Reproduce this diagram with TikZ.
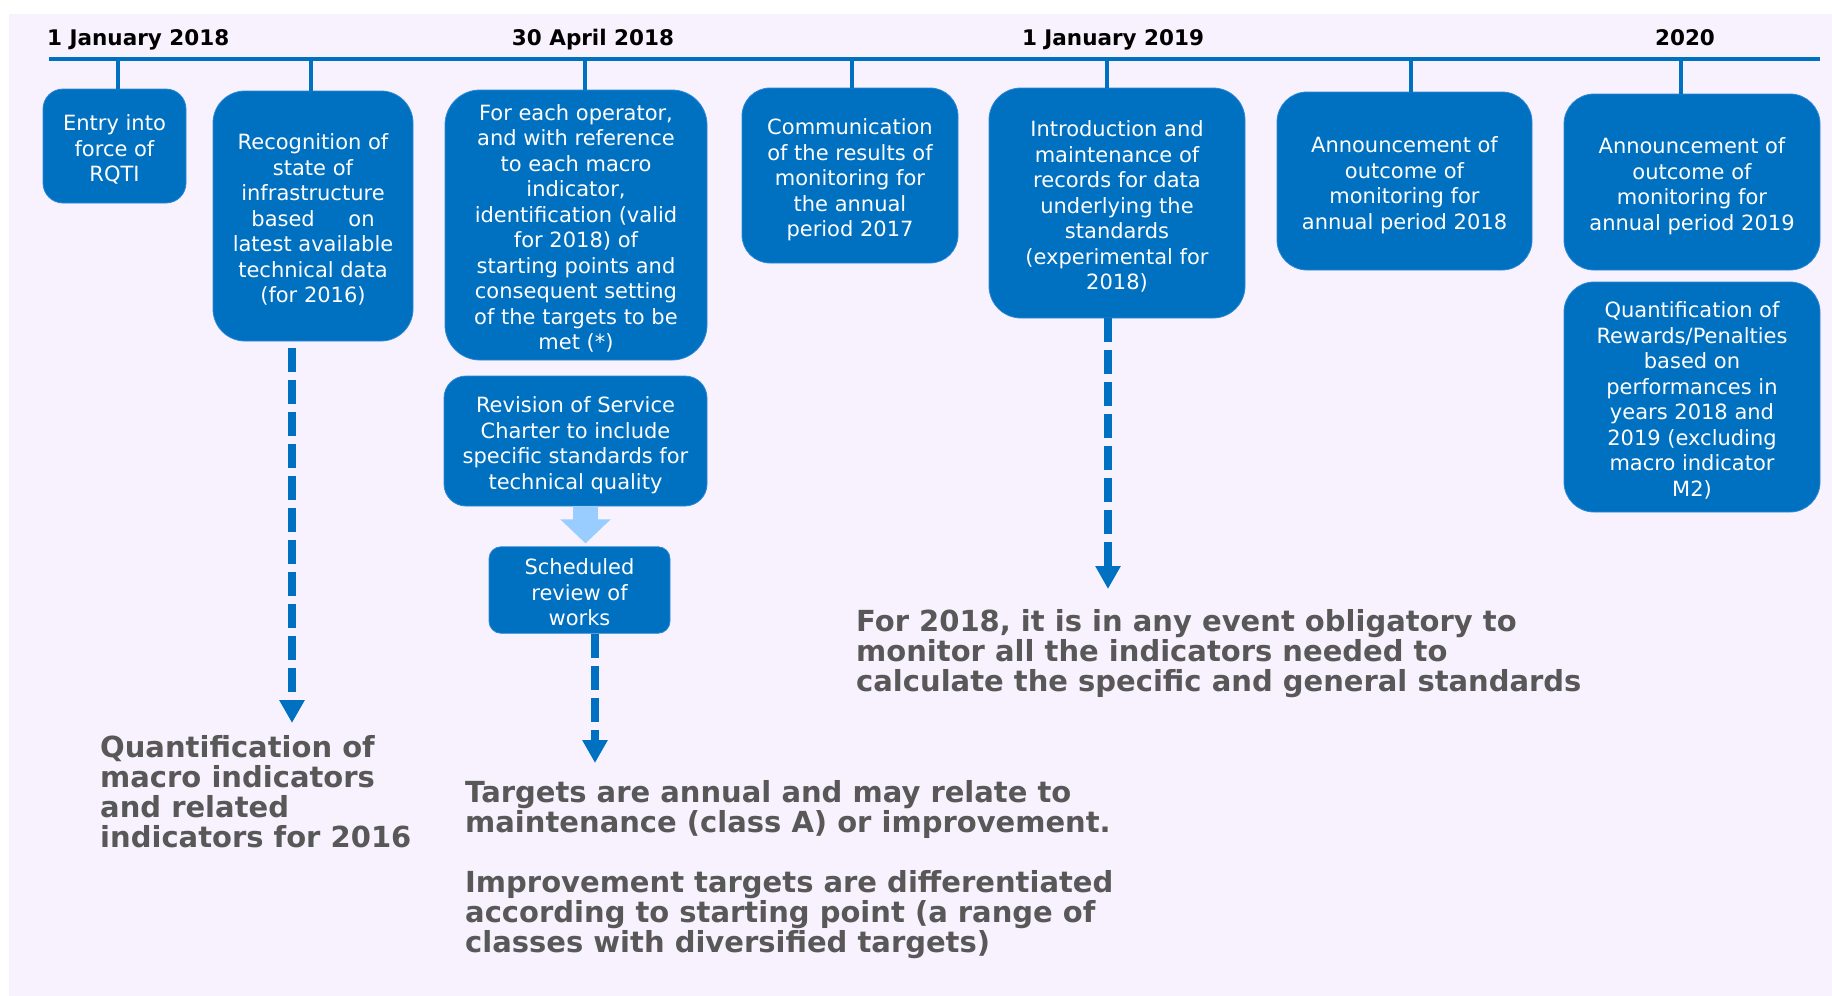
\documentclass[tikz,border=0pt]{standalone}
\usepackage{fontspec}
\setmainfont{DejaVu Sans}
\usetikzlibrary{arrows.meta}
\definecolor{bgl}{HTML}{F7F2FD}
\definecolor{boxblue}{HTML}{0070C0}
\definecolor{boxedge}{HTML}{2E88D6}
\definecolor{lightarrow}{HTML}{99CCFF}
\definecolor{graytext}{HTML}{585858}
\newcommand{\boxlines}[1]{\vbox{\kern10pt\hbox{\begin{tabular}{@{}c@{}}#1\end{tabular}}}}
\tikzset{
  box/.style={rectangle, rounded corners=#1, fill=boxblue, draw=boxedge, line width=0.8pt, text=white, inner sep=0pt, font=\fontsize{21}{25.5}\selectfont},
  box/.default=28pt,
  datelabel/.style={anchor=base, font=\bfseries\fontsize{21.5}{25}\selectfont, text=black, inner sep=0pt},
  note/.style={anchor=base west, align=left, inner sep=0pt, text=graytext, font=\bfseries\fontsize{29}{30}\selectfont},
  tickline/.style={draw=boxblue, line width=4.5pt},
  timeline/.style={draw=boxblue, line width=4.5pt},
  dasharrow/.style={draw=boxblue, line width=8pt, dash pattern=on 24pt off 8pt, -{Triangle[length=23pt,width=24pt]}},
  bigarrow/.style={draw=lightarrow, line width=25pt, -{Triangle[length=24pt,width=49pt]}},
}
\begin{document}
\begin{tikzpicture}[x=1pt,y=-1pt]
\useasboundingbox (0,0) rectangle (1832,996);
\fill[bgl] (9,14) rectangle (1832,996);

% timeline
\coordinate (tlA) at (49,59);
\coordinate (tlB) at (1820,59);
\draw[timeline] (tlA) -- (tlB);

% dates
\node[datelabel, anchor=base west] (d1) at (47,45) {1 January 2018};
\node[datelabel] (d2) at (593,45) {30 April 2018};
\node[datelabel] (d3) at (1113,45) {1 January 2019};
\node[datelabel] (d4) at (1685,45) {2020};

% boxes
\node[box=20pt, minimum width=143pt, minimum height=114pt] (entry) at (114.5,146) {\boxlines{Entry into\\force of\\RQTI}};
\node[box=32pt, minimum width=200pt, minimum height=250pt] (rec) at (313,216) {\boxlines{Recognition of\\state of\\infrastructure\\based\hspace{1.6em}on\\latest available\\technical data\\(for 2016)}};
\node[box=35pt, minimum width=262pt, minimum height=270pt] (oper) at (576,225) {\boxlines{For each operator,\\and with reference\\to each macro\\indicator,\\identification (valid\\for 2018) of\\starting points and\\consequent setting\\of the targets to be\\met (*)}};
\node[box=22pt, minimum width=263pt, minimum height=130pt] (rev) at (575.5,441) {\boxlines{Revision of Service\\Charter to include\\specific standards for\\technical quality}};
\node[box=12pt, minimum width=181pt, minimum height=84pt] (sch) at (579.5,590) {\boxlines{Scheduled\\review of\\works}};
\node[box=28pt, minimum width=216pt, minimum height=175pt] (comm) at (850,175.5) {\boxlines{Communication\\of the results of\\monitoring for\\the annual\\period 2017}};
\node[box=32pt, minimum width=256pt, minimum height=230pt] (intro) at (1117,203) {\boxlines{Introduction and\\maintenance of\\records for data\\underlying the\\standards\\(experimental for\\2018)}};
\node[box=30pt, minimum width=255pt, minimum height=178pt] (ann18) at (1404.5,181) {\boxlines{Announcement of\\outcome of\\monitoring for\\annual period 2018}};
\node[box=30pt, minimum width=256pt, minimum height=176pt] (ann19) at (1692,182) {\boxlines{Announcement of\\outcome of\\monitoring for\\annual period 2019}};
\node[box=30pt, minimum width=256pt, minimum height=230pt] (quant) at (1692,397) {\boxlines{Quantification of\\Rewards/Penalties\\based on\\performances in\\years 2018 and\\2019 (excluding\\macro indicator\\M2)}};

% ticks
\coordinate (tk1) at (118,59);
\coordinate (tk2) at (311,59);
\coordinate (tk3) at (585,59);
\coordinate (tk4) at (852,59);
\coordinate (tk5) at (1107,59);
\coordinate (tk6) at (1411,59);
\coordinate (tk7) at (1681,59);
\draw[tickline] (tk1) -- (tk1 |- entry.north);
\draw[tickline] (tk2) -- (tk2 |- rec.north);
\draw[tickline] (tk3) -- (tk3 |- oper.north);
\draw[tickline] (tk4) -- (tk4 |- comm.north);
\draw[tickline] (tk5) -- (tk5 |- intro.north);
\draw[tickline] (tk6) -- (tk6 |- ann18.north);
\draw[tickline] (tk7) -- (tk7 |- ann19.north);

% notes (base anchor = baseline of last line)
\node[note] (n1) at (100,847) {Quantification of\\macro indicators\\and related\\indicators for 2016};
\node[note] (n2) at (465,952) {Targets are annual and may relate to\\maintenance (class A) or improvement.\\[30pt]Improvement targets are differentiated\\according to starting point (a range of\\classes with diversified targets)};
\node[note] (n3) at (856,691) {For 2018, it is in any event obligatory to\\monitor all the indicators needed to\\calculate the specific and general standards};

% arrows
\coordinate (a1end) at (292,723);
\coordinate (a2end) at (595,763);
\coordinate (a3end) at (1108,589);
\draw[bigarrow] ([xshift=10pt]rev.south) -- ([xshift=6pt,yshift=3pt]sch.north);
\draw[dasharrow] ([xshift=-21pt,yshift=-7pt]rec.south) -- (a1end);
\draw[dasharrow] ([xshift=15.5pt]sch.south) -- (a2end);
\draw[dasharrow] ([xshift=-9pt]intro.south) -- (a3end);
\end{tikzpicture}
\end{document}
